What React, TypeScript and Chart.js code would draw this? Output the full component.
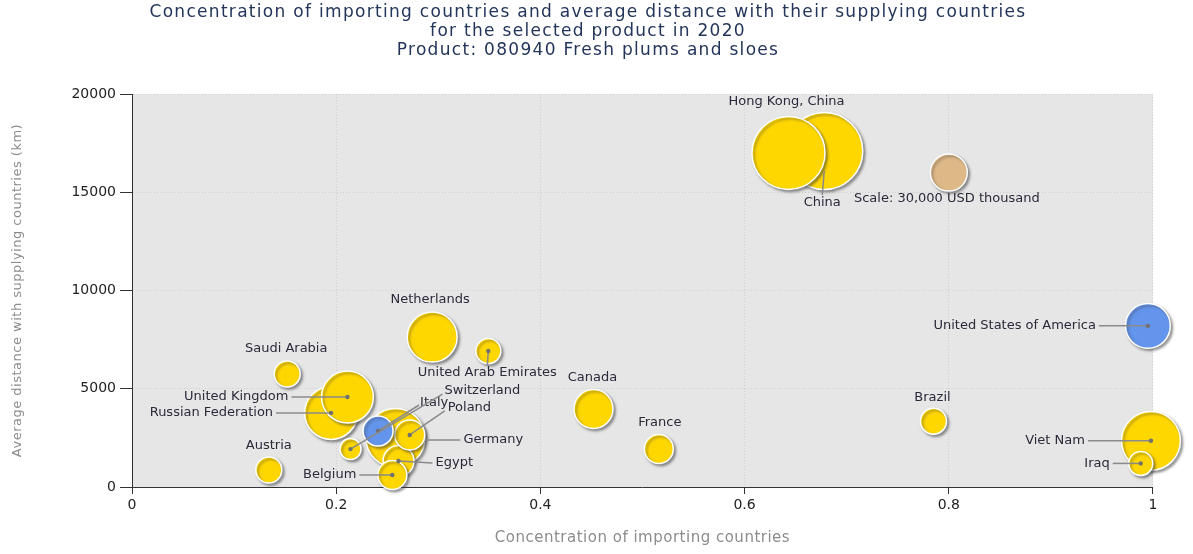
import { useEffect, useRef } from "react";
import { Chart, registerables } from "chart.js";

Chart.register(...registerables);

// ---------- DATA ----------
const titleLines = [
  "Concentration of importing countries and average distance with their supplying countries",
  "for the selected product in 2020",
  "Product: 080940 Fresh plums and sloes",
];
const xAxisTitle = "Concentration of importing countries";
const yAxisTitle = "Average distance with supplying countries (km)";

const countries = [
  "Hong Kong, China",
  "China",
  "Scale: 30,000 USD thousand",
  "United States of America",
  "Brazil",
  "Viet Nam",
  "Iraq",
  "Saudi Arabia",
  "United Kingdom",
  "Russian Federation",
  "Austria",
  "Belgium",
  "Egypt",
  "Germany",
  "Poland",
  "Italy",
  "Switzerland",
  "United Arab Emirates",
  "Netherlands",
  "Canada",
  "France",
];
// concentration of importing countries
const concentration = [
  0.643, 0.678, 0.8, 0.995, 0.785, 0.998, 0.988, 0.152, 0.211, 0.195, 0.134,
  0.255, 0.261, 0.258, 0.272, 0.241, 0.214, 0.349, 0.294, 0.452, 0.516,
];
// average distance with supplying countries (km)
const distance = [
  17000, 17100, 16000, 8200, 3350, 2350, 1200, 5750, 4580, 3770, 865, 610,
  1320, 2500, 2650, 2850, 1930, 6920, 7630, 3970, 1930,
];
// imported value, USD thousand
const importValue = [
  117000, 130000, 30000, 44000, 14800, 76000, 12600, 14800, 59000, 61500,
  14800, 18400, 21000, 76000, 19700, 19700, 9700, 13700, 54800, 33300, 18400,
];
// bubble kind: 0 = country, 1 = highlighted country, 2 = scale reference
const kind = [0, 0, 2, 1, 0, 0, 0, 0, 0, 0, 0, 0, 0, 0, 0, 1, 0, 0, 0, 0, 0];

const xTicks = { min: 0, max: 1, step: 0.2 };
const yTicks = { min: 0, max: 20000, step: 5000 };
const scaleReferenceValue = 30000;

// ---------- LABEL PLACEMENT (pixel offsets from bubble centre) ----------
type Place = {
  dx: number;
  dy: number;
  align: "left" | "right" | "center";
  line?: boolean;
  lx?: number;
  ly?: number;
  sx?: number;
  sy?: number;
  dot?: boolean;
};
const placements: Place[] = [
  { dx: -2, dy: -51, align: "center" },
  { dx: -2, dy: 52, align: "center", line: true, sx: 0, sy: 20, dot: false },
  { dx: -2, dy: 26, align: "center" },
  { dx: -52, dy: 0, align: "right", line: true },
  { dx: -1, dy: -24, align: "center" },
  { dx: -66, dy: 0, align: "right", line: true },
  { dx: -31, dy: 0, align: "right", line: true },
  { dx: -1, dy: -25, align: "center" },
  { dx: -59, dy: 0, align: "right", line: true },
  { dx: -58, dy: 0, align: "right", line: true },
  { dx: 0, dy: -24, align: "center" },
  { dx: -36, dy: 0, align: "right", line: true },
  { dx: 37, dy: 2, align: "left", line: true },
  { dx: 68, dy: 2, align: "left", line: true, sx: 30, sy: 2, dot: false },
  { dx: 38, dy: -27, align: "left", line: true, lx: 35, ly: -24 },
  { dx: 42, dy: -28, align: "left", line: true, lx: 41, ly: -26 },
  { dx: 94, dy: -58, align: "left", line: true, lx: 92, ly: -55 },
  { dx: -1, dy: 22, align: "center", line: true },
  { dx: -2, dy: -37, align: "center" },
  { dx: -1, dy: -31, align: "center" },
  { dx: 1, dy: -26, align: "center" },
];

const SCALE_RADIUS = 18.5;
const kindColors = ["#FFD700", "#6495ED", "#DEB887"];
const FONT = "'DejaVu Sans', sans-serif";

const bgPlugin = {
  id: "plotBg",
  beforeDraw(chart: any) {
    const { ctx, chartArea: a } = chart;
    ctx.save();
    ctx.fillStyle = "#E6E6E6";
    ctx.fillRect(a.left, a.top, a.right - a.left, a.bottom - a.top);
    ctx.restore();
  },
};

const shadowPlugin = {
  id: "bubbleShadow",
  beforeDatasetsDraw(chart: any) {
    const ctx = chart.ctx;
    ctx.save();
    ctx.shadowColor = "rgba(60,60,60,0.5)";
    ctx.shadowBlur = 2.5;
    ctx.shadowOffsetX = 2;
    ctx.shadowOffsetY = 2;
  },
  afterDatasetsDraw(chart: any) {
    chart.ctx.restore();
  },
};

const labelPlugin = {
  id: "bubbleLabels",
  afterDraw(chart: any) {
    const { ctx } = chart;
    const meta = chart.getDatasetMeta(0);
    const data = chart.data.datasets[0].data as any[];
    ctx.save();
    ctx.font = `13px ${FONT}`;
    ctx.textBaseline = "middle";
    meta.data.forEach((el: any, k: number) => {
      const i = data[k].i;
      const p = placements[i];
      const cx = el.x;
      const cy = el.y;
      const tx = cx + p.dx;
      const ty = cy + p.dy;
      if (p.line) {
        let ex: number, ey: number;
        if (p.lx !== undefined && p.ly !== undefined) {
          ex = cx + p.lx;
          ey = cy + p.ly;
        } else if (p.align === "right") {
          ex = tx + 3;
          ey = ty;
        } else if (p.align === "left") {
          ex = tx - 3;
          ey = ty;
        } else {
          ex = tx;
          ey = p.dy > 0 ? ty - 8 : ty + 8;
        }
        const sx = cx + (p.sx ?? 0);
        const sy = cy + (p.sy ?? 0);
        ctx.strokeStyle = "#8a8a8a";
        ctx.lineWidth = 1.5;
        ctx.beginPath();
        ctx.moveTo(sx, sy);
        ctx.lineTo(ex, ey);
        ctx.stroke();
        if (p.dot !== false) {
          ctx.fillStyle = "#707070";
          ctx.beginPath();
          ctx.arc(cx, cy, 2.2, 0, Math.PI * 2);
          ctx.fill();
        }
      }
      ctx.fillStyle = "#2a2a3a";
      ctx.textAlign = p.align;
      ctx.fillText(countries[i], tx, ty);
    });
    ctx.restore();

    // titles
    const a = chart.chartArea;
    ctx.save();
    ctx.fillStyle = "#23355a";
    ctx.font = `17px ${FONT}`;
    (ctx as any).letterSpacing = "1.3px";
    ctx.textAlign = "center";
    ctx.textBaseline = "middle";
    titleLines.forEach((t, j) => ctx.fillText(t, 588, 13 + j * 19));
    ctx.fillStyle = "#8c8c8c";
    ctx.font = `15px ${FONT}`;
    (ctx as any).letterSpacing = "0.5px";
    ctx.fillText(xAxisTitle, (a.left + a.right) / 2, 538);
    ctx.translate(18, (a.top + a.bottom) / 2);
    ctx.rotate(-Math.PI / 2);
    ctx.font = `13px ${FONT}`;
    ctx.fillText(yAxisTitle, 0, 0);
    ctx.restore();
  },
};

export default function App() {
  const ref = useRef<HTMLCanvasElement>(null);
  useEffect(() => {
    if (!ref.current) return;
    const order = countries
      .map((_, i) => i)
      .sort((a, b) => importValue[b] - importValue[a]);
    const points = order.map((i) => ({
      x: concentration[i],
      y: distance[i],
      r: SCALE_RADIUS * Math.sqrt(importValue[i] / scaleReferenceValue),
      i,
    }));
    const chart = new Chart(ref.current, {
      type: "bubble",
      data: {
        datasets: [
          {
            data: points as any,
            backgroundColor: points.map((p) => kindColors[kind[p.i]]),
            borderColor: "#ffffff",
            borderWidth: 1.5,
            clip: false as any,
          },
        ],
      },
      options: {
        animation: false,
        responsive: true,
        maintainAspectRatio: false,
        events: [],
        layout: { padding: { top: 94, right: 38, left: 0, bottom: 0 } },
        plugins: {
          legend: { display: false },
          tooltip: { enabled: false },
          title: { display: false },
        },
        scales: {
          x: {
            type: "linear",
            min: xTicks.min,
            max: xTicks.max,
            ticks: {
              stepSize: xTicks.step,
              color: "#222",
              font: { family: FONT, size: 14 },
              padding: 3,
              callback: (v: any) => String(Math.round(Number(v) * 10) / 10),
            },
            grid: {
              color: "#cfcfcf",
              tickColor: "#333",
              tickLength: 7,
              drawTicks: true,
            },
            border: { color: "#333", width: 1, dash: [1, 2] },
            afterFit(scale: any) {
              scale.height = 67;
            },
          },
          y: {
            type: "linear",
            min: yTicks.min,
            max: yTicks.max,
            ticks: {
              stepSize: yTicks.step,
              color: "#222",
              font: { family: FONT, size: 14 },
              padding: 4,
              callback: (v: any) => String(v),
            },
            grid: {
              color: "#cfcfcf",
              tickColor: "#333",
              tickLength: 12,
              drawTicks: true,
            },
            border: { color: "#333", width: 1, dash: [1, 2] },
            afterFit(scale: any) {
              scale.width = 132;
            },
          },
        },
      },
      plugins: [bgPlugin, shadowPlugin, labelPlugin],
    });
    return () => chart.destroy();
  }, []);
  return (
    <div style={{ position: "fixed", left: 0, top: 0, width: 1193, height: 554 }}>
      <canvas ref={ref} />
    </div>
  );
}
